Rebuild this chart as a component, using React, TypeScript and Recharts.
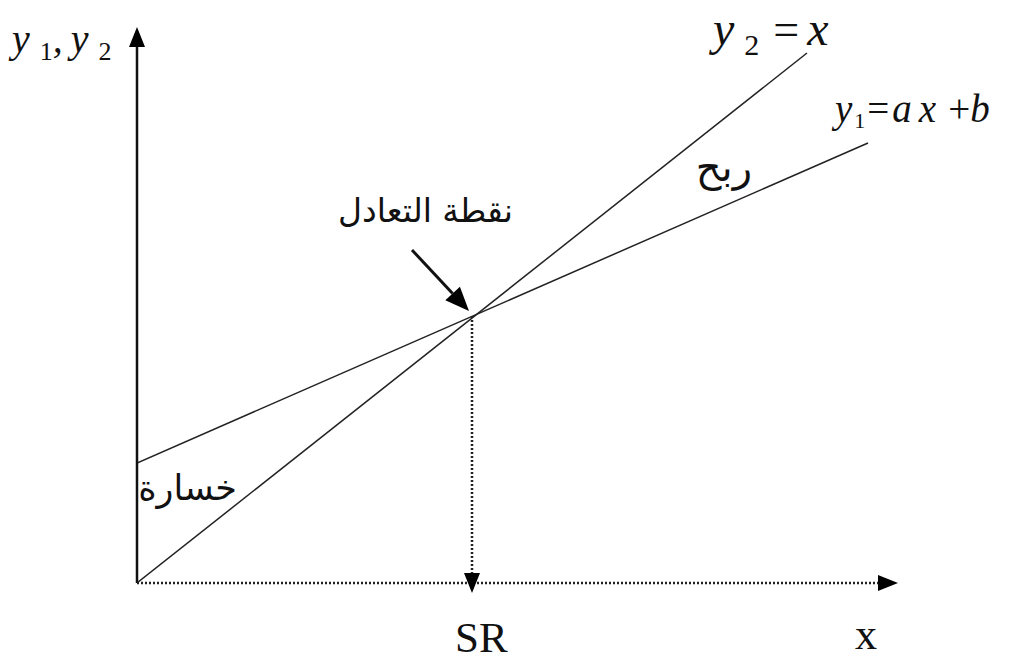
import React from 'react'
import { LineChart, XAxis, YAxis, Line, ReferenceLine, ReferenceDot } from 'recharts'

// one unit = 10px on both axes
const revenueLine = [
    { x: 0, y: 0 },
    { x: 67, y: 53 },
]
const costLine = [
    { x: 0, y: 12 },
    { x: 73.1, y: 44 },
]
const breakEven = { x: 33.5, y: 26.7 }
const yAxisTop = 55.6
const xAxisEnd = 76.1
const pointerFrom = { x: 27.5, y: 33.3 }

const serif = '"Liberation Serif", "DejaVu Serif", serif'
const arabic = '"DejaVu Sans", "Noto Sans", sans-serif'

function arrowShape(headLen: number, headHalf: number) {
    return (props: any) => {
        const { x1, y1, x2, y2, stroke, strokeWidth, strokeDasharray } = props
        const dx = x2 - x1
        const dy = y2 - y1
        const len = Math.sqrt(dx * dx + dy * dy) || 1
        const ux = dx / len
        const uy = dy / len
        const bx = x2 - ux * headLen
        const by = y2 - uy * headLen
        const pts = [
            `${x2},${y2}`,
            `${bx - uy * headHalf},${by + ux * headHalf}`,
            `${bx + uy * headHalf},${by - ux * headHalf}`,
        ].join(' ')
        return (
            <g>
                <line
                    x1={x1}
                    y1={y1}
                    x2={bx}
                    y2={by}
                    stroke={stroke}
                    strokeWidth={strokeWidth}
                    strokeDasharray={strokeDasharray}
                />
                <polygon points={pts} fill="#000" />
            </g>
        )
    }
}

function textAt(content: React.ReactNode, anchor: string, family: string) {
    return (props: any) => (
        <text x={props.cx} y={props.cy} textAnchor={anchor} fill="#111" fontFamily={family}>
            {content}
        </text>
    )
}

const labels = [
    {
        x: -12.5,
        y: 53.1,
        anchor: 'start',
        family: serif,
        content: (
            <tspan fontStyle="italic" fontSize={40}>
                y<tspan fontStyle="normal" fontSize={26} dx={10} dy={8}>1</tspan>
                <tspan dy={-8}>,</tspan>
                <tspan dx={8}>y</tspan>
                <tspan fontStyle="normal" fontSize={26} dx={10} dy={8}>2</tspan>
            </tspan>
        ),
    },
    {
        x: 57.6,
        y: 53.8,
        anchor: 'start',
        family: serif,
        content: (
            <tspan fontStyle="italic" fontSize={48}>
                y<tspan fontStyle="normal" fontSize={30} dx={10} dy={10}>2</tspan>
                <tspan fontStyle="normal" fontSize={46} dx={14} dy={-10}>=</tspan>
                <tspan dx={8}>x</tspan>
            </tspan>
        ),
    },
    {
        x: 69.8,
        y: 46.1,
        anchor: 'start',
        family: serif,
        content: (
            <tspan fontStyle="italic" fontSize={39}>
                y<tspan fontStyle="normal" fontSize={22} dx={2} dy={6}>1</tspan>
                <tspan fontStyle="normal" dx={2} dy={-6}>=</tspan>
                <tspan dx={3}>a</tspan>
                <tspan dx={7}>x</tspan>
                <tspan fontStyle="normal" dx={12}>+</tspan>b
            </tspan>
        ),
    },
    { x: 61.5, y: 40.2, anchor: 'end', family: arabic, content: <tspan fontSize={40}>ربح</tspan> },
    {
        x: 37.6,
        y: 36.1,
        anchor: 'end',
        family: arabic,
        content: <tspan fontSize={33}>نقطة التعادل</tspan>,
    },
    { x: 10.0, y: 8.3, anchor: 'end', family: arabic, content: <tspan fontSize={35}>خسارة</tspan> },
    { x: 31.8, y: -6.9, anchor: 'start', family: serif, content: <tspan fontSize={43}>SR</tspan> },
    { x: 71.8, y: -6.6, anchor: 'start', family: serif, content: <tspan fontSize={44}>x</tspan> },
]

export default function App() {
    return (
        <div style={{ position: 'absolute', left: 0, top: 0, background: '#fff' }}>
            <LineChart
                width={1022}
                height={664}
                margin={{ top: 20, right: 122, bottom: 1, left: 137 }}
            >
                <XAxis type="number" dataKey="x" domain={[0, 76.3]} hide allowDataOverflow />
                <YAxis type="number" dataKey="y" domain={[-8, 56.3]} hide allowDataOverflow />
                <Line
                    data={revenueLine}
                    dataKey="y"
                    stroke="#222"
                    strokeWidth={1.5}
                    dot={false}
                    isAnimationActive={false}
                />
                <Line
                    data={costLine}
                    dataKey="y"
                    stroke="#222"
                    strokeWidth={1.5}
                    dot={false}
                    isAnimationActive={false}
                />
                <ReferenceLine
                    segment={[{ x: 0, y: 0 }, { x: 0, y: yAxisTop }]}
                    stroke="#111"
                    strokeWidth={2.5}
                    ifOverflow="visible"
                    shape={arrowShape(20, 8)}
                />
                <ReferenceLine
                    segment={[{ x: 0, y: 0 }, { x: xAxisEnd, y: 0 }]}
                    stroke="#222"
                    strokeWidth={2.5}
                    strokeDasharray="2 2"
                    ifOverflow="visible"
                    shape={arrowShape(20, 8)}
                />
                <ReferenceLine
                    segment={[breakEven, { x: breakEven.x, y: -1 }]}
                    stroke="#222"
                    strokeWidth={2.5}
                    strokeDasharray="2 2"
                    ifOverflow="visible"
                    shape={arrowShape(20, 8)}
                />
                <ReferenceLine
                    segment={[pointerFrom, { x: 33.2, y: 27.2 }]}
                    stroke="#111"
                    strokeWidth={3}
                    ifOverflow="visible"
                    shape={arrowShape(24, 10)}
                />
                {labels.map((l, i) => (
                    <ReferenceDot
                        key={i}
                        x={l.x}
                        y={l.y}
                        r={0}
                        ifOverflow="visible"
                        shape={textAt(l.content, l.anchor, l.family)}
                    />
                ))}
            </LineChart>
        </div>
    )
}
